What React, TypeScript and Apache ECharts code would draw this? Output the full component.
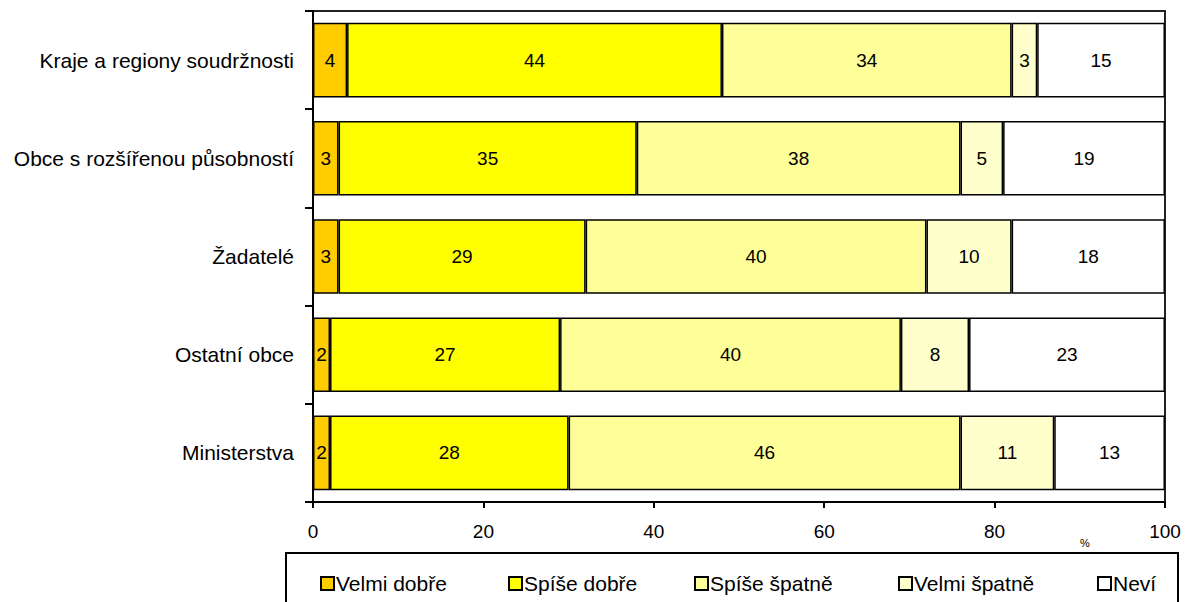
import React, { useEffect, useRef } from "react";
import * as echarts from "echarts";

const categories = [
  "Kraje a regiony soudržnosti",
  "Obce s rozšířenou působností",
  "Žadatelé",
  "Ostatní obce",
  "Ministerstva",
];
const seriesNames = ["Velmi dobře", "Spíše dobře", "Spíše špatně", "Velmi špatně", "Neví"];
const velmiDobre = [4, 3, 3, 2, 2];
const spiseDobre = [44, 35, 29, 27, 28];
const spiseSpatne = [34, 38, 40, 40, 46];
const velmiSpatne = [3, 5, 10, 8, 11];
const nevi = [15, 19, 18, 23, 13];
const xTicks = { min: 0, max: 100, interval: 20 };
const colors = ["#FFCC00", "#FFFF00", "#FFFF99", "#FFFFCC", "#FFFFFF"];
const legendLefts = [315, 503, 689, 893, 1092];

export default function App() {
  const ref = useRef<HTMLDivElement>(null);
  useEffect(() => {
    if (!ref.current) return;
    const chart = echarts.init(ref.current, null, { renderer: "svg" });
    const font = "Liberation Sans, Arial, sans-serif";
    const values = [velmiDobre, spiseDobre, spiseSpatne, velmiSpatne, nevi];
    chart.setOption({
      animation: false,
      textStyle: { fontFamily: font },
      grid: {
        left: 313,
        top: 11,
        width: 852,
        height: 491,
        show: true,
        borderColor: "#222",
        borderWidth: 2,
        backgroundColor: "transparent",
      },
      xAxis: {
        type: "value",
        min: xTicks.min,
        max: xTicks.max,
        interval: xTicks.interval,
        axisLine: { show: true, lineStyle: { color: "#000", width: 2 } },
        axisTick: { show: true, length: 6, lineStyle: { color: "#000", width: 2 } },
        axisLabel: { color: "#000", fontSize: 19, fontFamily: font, margin: 20 },
        splitLine: { show: false },
      },
      yAxis: {
        type: "category",
        data: categories,
        inverse: true,
        axisLine: { show: true, lineStyle: { color: "#000", width: 2 } },
        axisTick: { show: true, length: 8, lineStyle: { color: "#000", width: 2 } },
        axisLabel: { color: "#000", fontSize: 21, fontFamily: font, margin: 19 },
      },
      legend: seriesNames.map((n, i) => ({
        data: [n],
        left: legendLefts[i],
        top: 568,
        itemWidth: 13,
        itemHeight: 13,
        itemGap: 4,
        icon: "rect",
        textStyle: { color: "#000", fontSize: 21, fontFamily: font, padding: [0, 0, 0, -3] },
        selectedMode: false,
      })),
      graphic: [
        {
          type: "rect",
          shape: { x: 286, y: 553, width: 892, height: 100 },
          style: { fill: "none", stroke: "#000", lineWidth: 2 },
          silent: true,
        },
        {
          type: "text",
          x: 1080,
          y: 537,
          style: { text: "%", fontSize: 11, fill: "#000", fontFamily: font },
        },
      ],
      series: seriesNames.map((n, i) => ({
        name: n,
        type: "bar",
        stack: "total",
        data: values[i],
        barCategoryGap: "24%",
        itemStyle: { color: colors[i], borderColor: "#000", borderWidth: 1.5 },
        label: {
          show: true,
          position: "inside",
          color: "#000",
          fontSize: 19,
          fontFamily: font,
        },
      })),
    });
    return () => chart.dispose();
  }, []);
  return (
    <div
      ref={ref}
      style={{ position: "absolute", left: 0, top: 0, width: 1186, height: 602, background: "#fff" }}
    />
  );
}
